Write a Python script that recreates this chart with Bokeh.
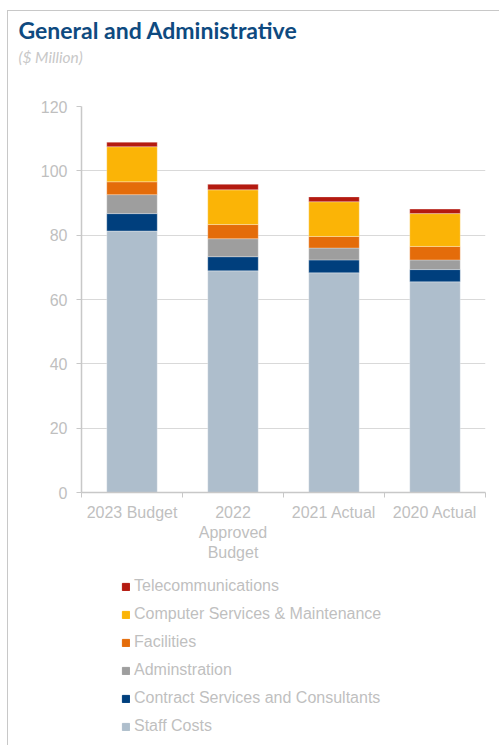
from bokeh.plotting import figure
from bokeh.models import (ColumnDataSource, Range1d, FixedTicker, Legend, LegendItem, Title)
from bokeh.layouts import column
from bokeh.embed import file_html
from bokeh.resources import INLINE

# ---- data ----
categories = ["2023 Budget", "2022 Approved Budget", "2021 Actual", "2020 Actual"]
tick_labels = ["2023 Budget", "2022\nApproved\nBudget", "2021 Actual", "2020 Actual"]
series = ["Staff Costs", "Contract Services and Consultants", "Adminstration",
          "Facilities", "Computer Services & Maintenance", "Telecommunications"]
staff = [81.3, 68.9, 68.3, 65.5]
contract = [5.4, 4.4, 4.0, 3.8]
admin = [5.9, 5.6, 3.7, 3.0]
facilities = [4.0, 4.4, 3.6, 4.2]
computer = [10.9, 10.8, 10.8, 10.2]
telecom = [1.4, 1.7, 1.5, 1.4]
colors = ["#AEBECC", "#003F7D", "#9E9E9E", "#E46C0A", "#FBB406", "#B41A10"]
y_ticks = [0, 20, 40, 60, 80, 100, 120]

xpos = [i + 0.5 for i in range(len(categories))]
keys = ["staff", "contract", "admin", "facilities", "computer", "telecom"]
source = ColumnDataSource(dict(x=xpos, staff=staff, contract=contract, admin=admin,
                               facilities=facilities, computer=computer, telecom=telecom))

FW = 491
p = figure(width=FW, height=560, x_range=Range1d(0, len(categories)), y_range=Range1d(0, 120),
           output_backend="svg", toolbar_location=None, title=None,
           min_border_left=73, min_border_right=14, min_border_top=95, min_border_bottom=79)
p.outline_line_color = None
p.background_fill_color = "white"
p.border_fill_color = "white"

renderers = p.vbar_stack(keys, x="x", width=0.5, source=source, color=colors,
                         line_color="white", line_width=0.6, line_alpha=0.5)

# axes
grey_txt = "#BFBFBF"
p.yaxis.ticker = FixedTicker(ticks=y_ticks, minor_ticks=[])
p.yaxis.axis_line_color = "#C8C8C8"
p.yaxis.axis_line_width = 1.5
p.yaxis.major_tick_line_color = "#C8C8C8"
p.yaxis.major_tick_out = 5
p.yaxis.major_tick_in = 0
p.yaxis.major_label_text_color = grey_txt
p.yaxis.major_label_text_font = "Liberation Sans"
p.yaxis.major_label_text_font_size = "16px"
p.yaxis.major_label_standoff = 9

p.xaxis.ticker = FixedTicker(ticks=xpos, minor_ticks=list(range(len(categories) + 1)))
p.xaxis.major_label_overrides = {x: t for x, t in zip(xpos, tick_labels)}
p.xaxis.axis_line_color = "#C8C8C8"
p.xaxis.axis_line_width = 1.5
p.xaxis.major_tick_line_color = None
p.xaxis.minor_tick_line_color = "#C8C8C8"
p.xaxis.minor_tick_out = 5
p.xaxis.minor_tick_in = 0
p.xaxis.major_label_text_color = grey_txt
p.xaxis.major_label_text_font = "Liberation Sans"
p.xaxis.major_label_text_font_size = "16px"
p.xaxis.major_label_standoff = 5

p.xgrid.grid_line_color = None
p.ygrid.grid_line_color = "#D9D9D9"
p.ygrid.grid_line_width = 1.2

# header: spacer (closest to plot), subtitle, then title
p.add_layout(Title(text=" ", align="left", standoff=28, text_font_size="10px",
                   text_color="white"), "above")
p.add_layout(Title(text="($ Million)", align="left", offset=-63, standoff=0,
                   text_font="Lato", text_font_style="italic", text_font_size="15.5px",
                   text_color="#C8C8C8"), "above")
p.add_layout(Title(text="General and Administrative", align="left", offset=-63, standoff=3,
                   text_font="Lato", text_font_style="bold", text_font_size="23px",
                   text_color="#0E4A80"), "above")

# ---- legend figure (glyphs kept out of view; only the legend shows) ----
LH = 174
q = figure(width=FW, height=LH, x_range=Range1d(0, len(categories)), y_range=Range1d(500, 501),
           output_backend="svg", toolbar_location=None, title=None,
           x_axis_type=None, y_axis_type=None,
           min_border_left=0, min_border_right=0, min_border_top=0, min_border_bottom=0)
q.outline_line_color = None
q.xgrid.grid_line_color = None
q.ygrid.grid_line_color = None
q_rend = q.vbar_stack(keys, x="x", width=0.5, source=source, color=colors)

items = [LegendItem(label=series[i], renderers=[q_rend[i]]) for i in reversed(range(len(series)))]
legend = Legend(items=items, location=(40, 9), orientation="vertical",
                glyph_width=9, glyph_height=9, label_height=20, spacing=8, label_standoff=4,
                padding=0, margin=0, border_line_color=None, background_fill_alpha=0,
                label_text_color=grey_txt, label_text_font="Liberation Sans",
                label_text_font_size="16px")
q.add_layout(legend, "center")

layout = column(p, q, margin=(10, 0, 0, 7), spacing=0,
                styles={"border-left": "1px solid #C8C8C8", "border-top": "1px solid #C8C8C8"})

open("out.html", "w").write(file_html(layout, INLINE))
